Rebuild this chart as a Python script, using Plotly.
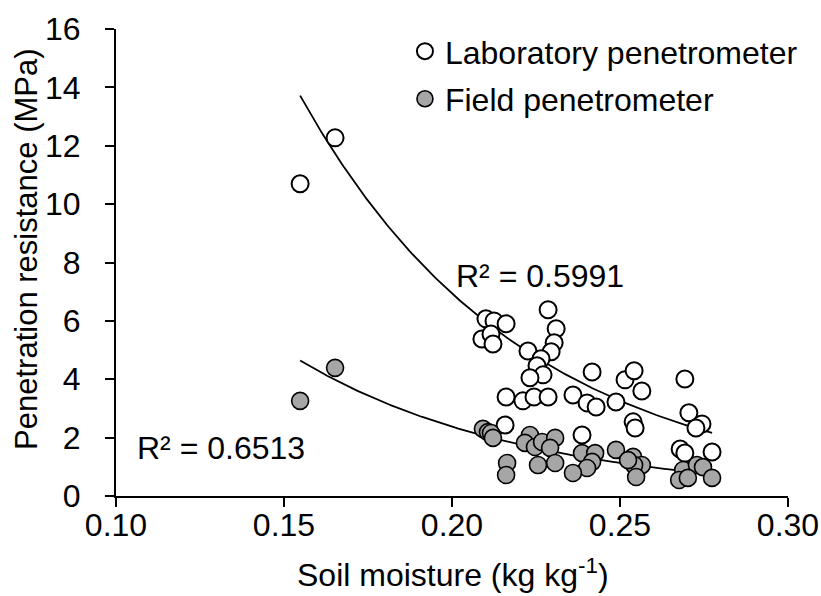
import numpy as np
import plotly.graph_objects as go

# Laboratory penetrometer: soil moisture (kg/kg), penetration resistance (MPa)
lab_moisture = [0.1548, 0.1652, 0.2101, 0.2125, 0.2161, 0.2089, 0.2116, 0.2122,
                0.2286, 0.2310, 0.2304, 0.2295, 0.2226, 0.2265, 0.2253, 0.2271,
                0.2232, 0.2417, 0.2515, 0.2542, 0.2565, 0.2693, 0.2161, 0.2211,
                0.2244, 0.2286, 0.2360, 0.2402, 0.2429, 0.2488, 0.2539, 0.2545,
                0.2705, 0.2744, 0.2726, 0.2158, 0.2387, 0.2679, 0.2693, 0.2774]
lab_resistance = [10.70, 12.27, 6.07, 6.00, 5.90, 5.38, 5.55, 5.21,
                  6.38, 5.73, 5.25, 4.94, 4.97, 4.70, 4.46, 4.15,
                  4.05, 4.25, 3.98, 4.29, 3.60, 4.01, 3.39, 3.26,
                  3.39, 3.39, 3.46, 3.19, 3.05, 3.22, 2.54, 2.33,
                  2.85, 2.47, 2.33, 2.43, 2.09, 1.61, 1.47, 1.51]

# Field penetrometer
field_moisture = [0.1548, 0.1652, 0.2092, 0.2107, 0.2116, 0.2122, 0.2232, 0.2217,
                  0.2247, 0.2268, 0.2307, 0.2292, 0.2256, 0.2307, 0.2164, 0.2161,
                  0.2387, 0.2426, 0.2417, 0.2402, 0.2360, 0.2488, 0.2539, 0.2565,
                  0.2542, 0.2548, 0.2524, 0.2688, 0.2729, 0.2747, 0.2676, 0.2702,
                  0.2774]
field_resistance = [3.26, 4.39, 2.30, 2.19, 2.16, 1.99, 2.09, 1.82,
                    1.68, 1.85, 1.99, 1.65, 1.06, 1.13, 1.13, 0.72,
                    1.47, 1.47, 1.17, 0.96, 0.79, 1.58, 1.34, 1.06,
                    1.06, 0.65, 1.23, 0.89, 1.06, 0.99, 0.55, 0.62,
                    0.62]

# Exponential trendlines y = a * exp(b * x)
lab_fit_a, lab_fit_b = 141.6, -15.08
field_fit_a, field_fit_b = 46.1, -14.83

x_ticks = [0.10, 0.15, 0.20, 0.25, 0.30]
y_ticks = [0, 2, 4, 6, 8, 10, 12, 14, 16]
lab_r2_text = "R² = 0.5991"
field_r2_text = "R² = 0.6513"
x_title = "Soil moisture (kg kg<sup>-1</sup>)"
y_title = "Penetration resistance (MPa)"

FONT = "Liberation Sans, Arial, sans-serif"


def trend(x, a, b):
    x = np.asarray(x)
    xs = np.linspace(x.min(), x.max(), 200)
    return xs, a * np.exp(b * xs)


fig = go.Figure()

lx, ly = trend(lab_moisture, lab_fit_a, lab_fit_b)
fx, fy = trend(field_moisture, field_fit_a, field_fit_b)

fig.add_trace(go.Scatter(x=lx, y=ly, mode="lines", line=dict(color="black", width=1.8),
                         showlegend=False, hoverinfo="skip"))
fig.add_trace(go.Scatter(x=fx, y=fy, mode="lines", line=dict(color="black", width=1.8),
                         showlegend=False, hoverinfo="skip"))

fig.add_trace(go.Scatter(x=lab_moisture, y=lab_resistance, mode="markers",
                         name="Laboratory penetrometer", legendgroup="lab",
                         marker=dict(size=17, color="white", line=dict(color="black", width=2))))
fig.add_trace(go.Scatter(x=field_moisture, y=field_resistance, mode="markers",
                         name="Field penetrometer", legendgroup="field",
                         marker=dict(size=17, color="#A6A6A6", line=dict(color="black", width=1.6))))

fig.add_annotation(x=0.2262, y=7.54, text=lab_r2_text, showarrow=False,
                   font=dict(family=FONT, size=32, color="black"))
fig.add_annotation(x=0.1313, y=1.65, text=field_r2_text, showarrow=False,
                   font=dict(family=FONT, size=32, color="black"))

# axis titles
fig.add_annotation(xref="paper", yref="paper", x=0.5015, y=-0.165, text=x_title,
                   showarrow=False, xanchor="center", yanchor="middle",
                   font=dict(family=FONT, size=32, color="black"))
fig.add_annotation(xref="paper", yref="paper", x=-0.1324, y=0.527, text=y_title,
                   showarrow=False, xanchor="center", yanchor="middle", textangle=-90,
                   font=dict(family=FONT, size=31, color="black"))

fig.update_layout(
    width=821, height=596,
    margin=dict(l=116, r=33, t=29, b=100, autoexpand=False),
    paper_bgcolor="white", plot_bgcolor="white",
    font=dict(family=FONT, color="black"),
    legend=dict(x=0.43, y=1.011, xanchor="left", yanchor="top",
                font=dict(family=FONT, size=32, color="black"),
                bgcolor="rgba(0,0,0,0)", itemwidth=30, tracegroupgap=3),
    xaxis=dict(range=[0.10, 0.30], tickvals=x_ticks, tickformat=".2f",
               showgrid=False, zeroline=False, showline=True, linecolor="black",
               linewidth=2, ticks="outside", ticklen=9, tickwidth=2, tickcolor="black",
               tickfont=dict(family=FONT, size=32, color="black"),
               ticklabelstandoff=-9, automargin=False),
    yaxis=dict(range=[0, 16], tickvals=y_ticks,
               showgrid=False, zeroline=False, showline=True, linecolor="black",
               linewidth=2, ticks="outside", ticklen=9, tickwidth=2, tickcolor="black",
               tickfont=dict(family=FONT, size=32, color="black"),
               ticklabelstandoff=18, automargin=False),
)

# remove the default 8px page margin so the figure fills the window exactly
fig.write_html("out.html", config={"displayModeBar": False},
               post_script="document.body.style.margin='0';document.body.style.overflow='hidden';")
